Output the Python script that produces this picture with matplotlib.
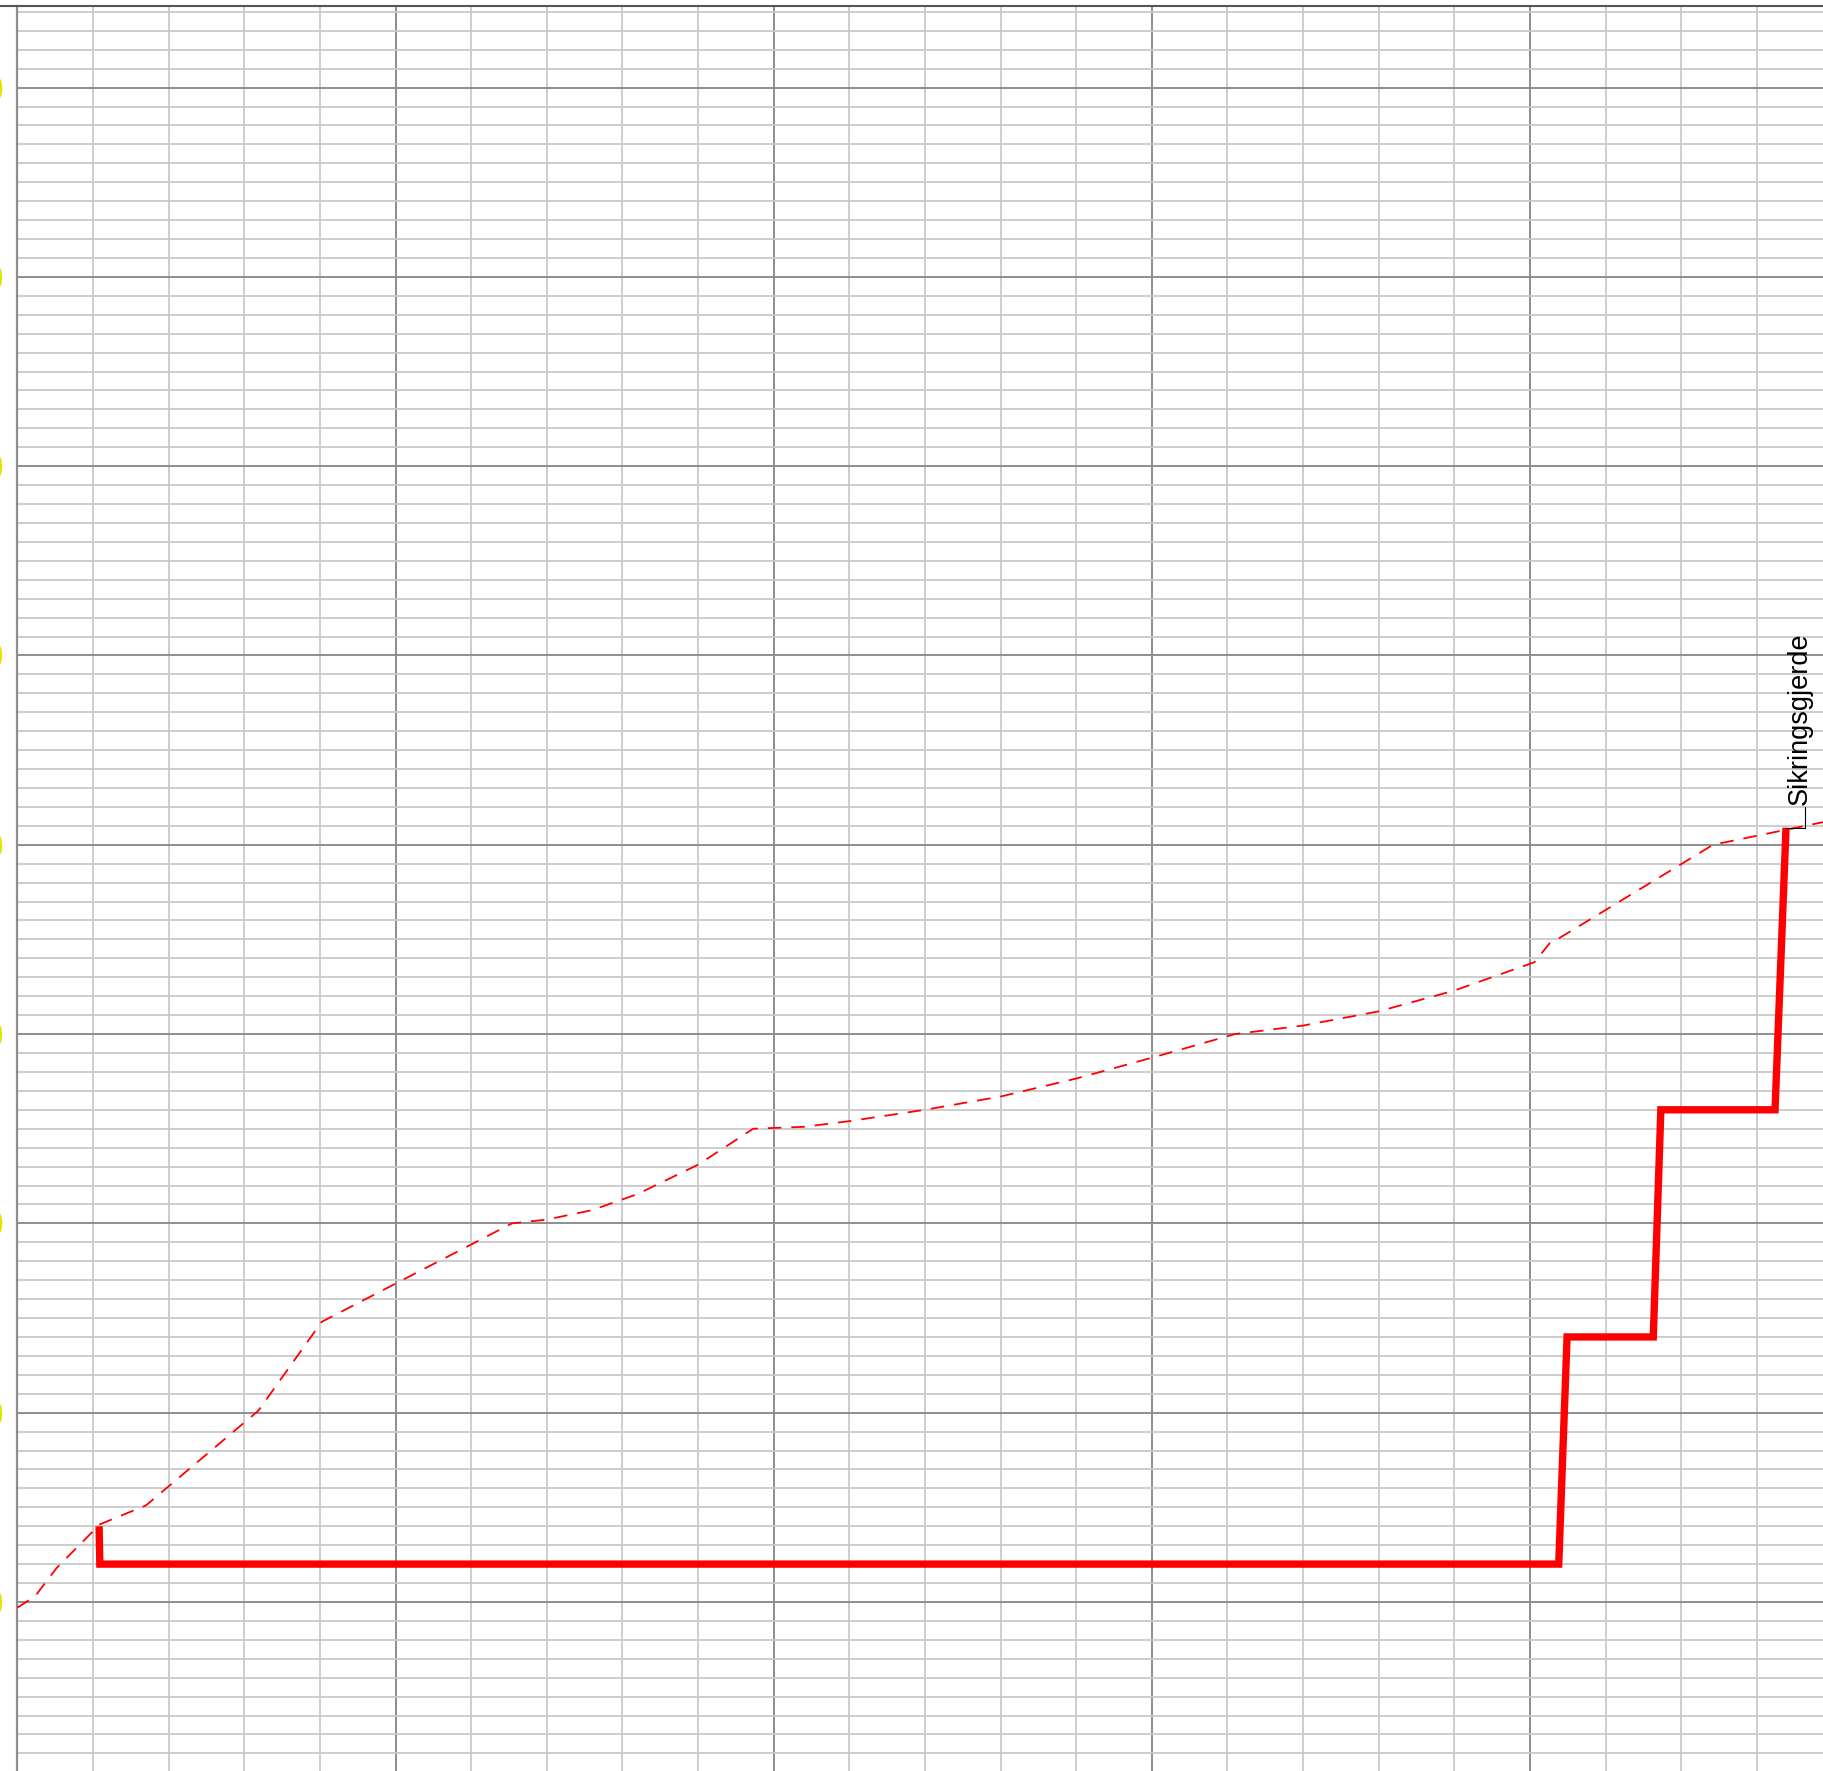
"""Longitudinal profile: terrain (dashed) and fence/wall line (thick), on a mm-paper grid."""

import matplotlib

matplotlib.use("Agg")

import matplotlib.pyplot as plt
from matplotlib.lines import Line2D
from matplotlib.ticker import MultipleLocator, FormatStrFormatter

# profile data (chainage m, elevation m)
terrain_x = [0, 2.33, 5.2, 10.9, 17.0, 31.85, 40.24, 65.4, 70.0, 76.0, 82.0, 90.0,
             97.3, 104.0, 110.0, 120.0, 130.0, 140.0, 150.0, 161.0, 170.0, 180.0,
             190.0, 200.6, 202.6, 204.0, 224.2, 238.8]
terrain_y = [9.97, 10.03, 10.18, 10.41, 10.51, 11.01, 11.48, 12.0, 12.02, 12.07, 12.155,
             12.31, 12.50, 12.51, 12.54, 12.60, 12.67, 12.765, 12.875, 13.0, 13.045,
             13.12, 13.23, 13.38, 13.48, 13.51, 14.0, 14.12]

fence_x = [10.8, 10.9, 203.8, 204.9, 216.3, 217.3, 232.4, 233.85]
fence_y = [10.40, 10.20, 10.20, 11.40, 11.40, 12.60, 12.60, 14.09]

label_text = "Sikringsgjerde"
label_x = 235.6
label_y = 14.21
leader_x = [233.85, 236.4, 236.4]
leader_y = [14.09, 14.09, 14.2]

X_RANGE = (0, 238.74)
Y_RANGE = (9.107, 18.431)

RED = "#ff0000"
MAJOR = "#8e8e8e"
MINOR = "#c9c9c9"
YELLOW = "#e4e400"

W, H = 1823, 1771
LEFT_PX, TOP_PX = 17.4, 6

plt.rcParams["font.family"] = ["Liberation Sans", "DejaVu Sans"]

fig = plt.figure(figsize=(W / 100, H / 100), dpi=100, facecolor="white")
ax = fig.add_axes([LEFT_PX / W, 0, 1 - LEFT_PX / W, 1 - TOP_PX / H])
ax.set_xlim(*X_RANGE)
ax.set_ylim(*Y_RANGE)

ax.xaxis.set_major_locator(MultipleLocator(50))
ax.xaxis.set_minor_locator(MultipleLocator(10))
ax.yaxis.set_major_locator(MultipleLocator(1))
ax.yaxis.set_minor_locator(MultipleLocator(0.1))
ax.yaxis.set_major_formatter(FormatStrFormatter("%.1f"))

ax.grid(True, which="minor", color=MINOR, lw=1.3, zorder=0)
ax.grid(True, which="major", color=MAJOR, lw=1.4, zorder=0)
ax.set_axisbelow(True)

ax.tick_params(axis="x", which="both", length=0, labelbottom=False)
ax.tick_params(axis="y", which="both", length=0)
# elevation labels sit just outside the sheet, only their edge shows
ax.tick_params(axis="y", which="major", labelsize=28, labelcolor=YELLOW, pad=9.6)

for side in ("top", "right", "bottom"):
    ax.spines[side].set_visible(False)
ax.spines["left"].set_color(MAJOR)
ax.spines["left"].set_linewidth(1.6)

ax.plot(terrain_x, terrain_y, color=RED, lw=1.3, linestyle=(0, (7.5, 5.5)), zorder=3)
ax.plot(fence_x, fence_y, color=RED, lw=5.3, solid_joinstyle="miter",
        solid_capstyle="butt", zorder=4)

ax.plot(leader_x, leader_y, color="black", lw=0.8, zorder=5)
ax.text(label_x, label_y, label_text, rotation=90, ha="center", va="bottom",
        fontsize=19.5, color="black", zorder=5)

# frame line at the top of the sheet
fig.add_artist(Line2D([0, 1], [1 - TOP_PX / H, 1 - TOP_PX / H],
                      transform=fig.transFigure, color="#555555", lw=1.5))

fig.savefig("out.png", dpi=100, facecolor="white")
